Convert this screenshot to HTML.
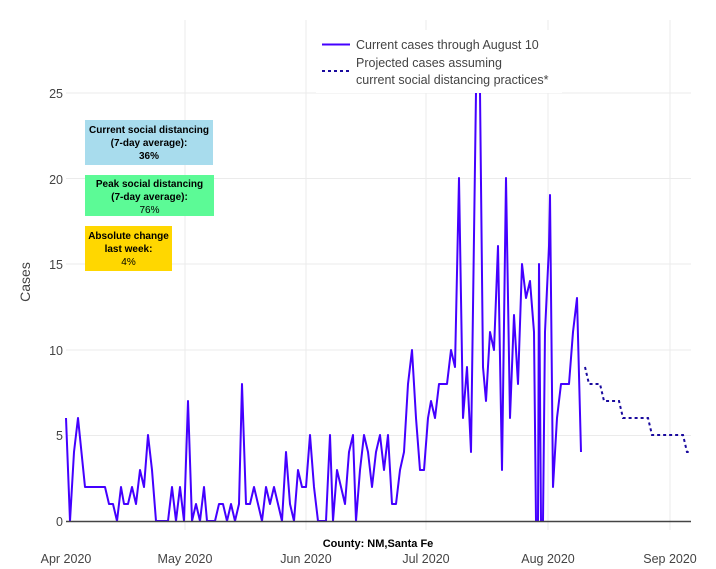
<!DOCTYPE html>
<html><head><meta charset="utf-8"><style>
html,body{margin:0;padding:0;background:#fff;}
svg{display:block;font-family:"Liberation Sans",sans-serif;}
</style></head><body>
<svg width="716" height="569" viewBox="0 0 716 569" xmlns="http://www.w3.org/2000/svg">
<g stroke="#ebebeb" stroke-width="1">
<line x1="66" x2="691" y1="435.5" y2="435.5"/>
<line x1="66" x2="691" y1="350" y2="350"/>
<line x1="66" x2="691" y1="264" y2="264"/>
<line x1="66" x2="691" y1="178.5" y2="178.5"/>
<line x1="66" x2="691" y1="93" y2="93"/>
<line x1="185" x2="185" y1="20" y2="530"/>
<line x1="306" x2="306" y1="20" y2="530"/>
<line x1="426" x2="426" y1="20" y2="530"/>
<line x1="548" x2="548" y1="20" y2="530"/>
<line x1="670" x2="670" y1="20" y2="530"/>
</g>
<g fill="#444" font-size="12.5" text-anchor="end">
<text x="63" y="526">0</text>
<text x="63" y="440">5</text>
<text x="63" y="355">10</text>
<text x="63" y="269">15</text>
<text x="63" y="184">20</text>
<text x="63" y="98">25</text>
</g>
<text transform="translate(30,282) rotate(-90)" fill="#444" font-size="14" text-anchor="middle">Cases</text>
<g fill="#444" font-size="12.5" text-anchor="middle">
<text x="66" y="563">Apr 2020</text>
<text x="185" y="563">May 2020</text>
<text x="306" y="563">Jun 2020</text>
<text x="426" y="563">Jul 2020</text>
<text x="548" y="563">Aug 2020</text>
<text x="670" y="563">Sep 2020</text>
</g>
<text x="378" y="547" font-size="11" font-weight="bold" text-anchor="middle" fill="#000">County: NM,Santa Fe</text>
<polyline fill="none" stroke="#4400ff" stroke-width="2" stroke-linejoin="round" points="66,418 70,521 74,452 78,418 85,487 105,487 109,504 113,504 117,521 121,487 124,504 128,504 132,487 136,504 140,470 144,487 148,435 152,470 156,521 168,521 172,487 176,521 180,487 184,521 188,401 192,521 196,504 200,521 204,487 207,521 215,521 219,504 223,504 227,521 231,504 235,521 239,504 242,384 246,504 250,504 254,487 258,504 262,521 266,487 270,504 274,487 278,504 282,521 286,452 290,504 294,521 298,470 302,487 306,487 310,435 314,487 318,521 326,521 330,435 333,521 337,470 341,487 345,504 349,452 353,435 356,521 360,470 364,435 368,452 372,487 376,452 380,435 384,470 388,435 392,504 396,504 400,470 404,452 408,384 412,350 416,418 420,470 424,470 428,418 431,401 435,418 439,384 447,384 451,350 455,367 459,178 463,418 467,367 471,452 476,92 480,92 483,367 486,401 490,332 494,350 498,246 502,470 506,178 510,418 514,315 518,384 522,264 526,298 530,281 534,332 536,521 538,521 539,264 541,521 543,521 545,332 549,246 550,195 553,487 557,418 561,384 569,384 573,332 577,298 581,452"/>
<polyline fill="none" stroke="#1a0a9e" stroke-width="2" stroke-dasharray="3,3" points="585,367 589,384 600,384 604,401 619,401 623,418 648,418 652,435 683,435 687,452 691,452"/>
<line x1="66" x2="691" y1="521.5" y2="521.5" stroke="#444" stroke-width="1.5"/>
<rect x="316" y="30" width="246" height="63" fill="#fff"/>
<line x1="322" x2="350" y1="44.5" y2="44.5" stroke="#4400ff" stroke-width="2"/>
<line x1="322" x2="350" y1="71" y2="71" stroke="#1a0a9e" stroke-width="2" stroke-dasharray="3,3"/>
<g fill="#444" font-size="12.5">
<text x="356" y="49">Current cases through August 10</text>
<text x="356" y="67">Projected cases assuming</text>
<text x="356" y="84">current social distancing practices*</text>
</g>
<rect x="85" y="120" width="128" height="45" fill="#a8dced"/>
<rect x="85" y="175" width="129" height="41" fill="#5cfa96"/>
<rect x="85" y="226" width="87" height="45" fill="#ffd700"/>
<g font-size="10" text-anchor="middle" fill="#000">
<text x="149" y="133" font-weight="bold">Current social distancing</text>
<text x="149" y="146" font-weight="bold">(7-day average):</text>
<text x="149" y="159" font-weight="bold">36%</text>
<text x="149.5" y="187" font-weight="bold">Peak social distancing</text>
<text x="149.5" y="200" font-weight="bold">(7-day average):</text>
<text x="149.5" y="213">76%</text>
<text x="128.5" y="239" font-weight="bold">Absolute change</text>
<text x="128.5" y="252" font-weight="bold">last week:</text>
<text x="128.5" y="265">4%</text>
</g>
</svg>
</body></html>
